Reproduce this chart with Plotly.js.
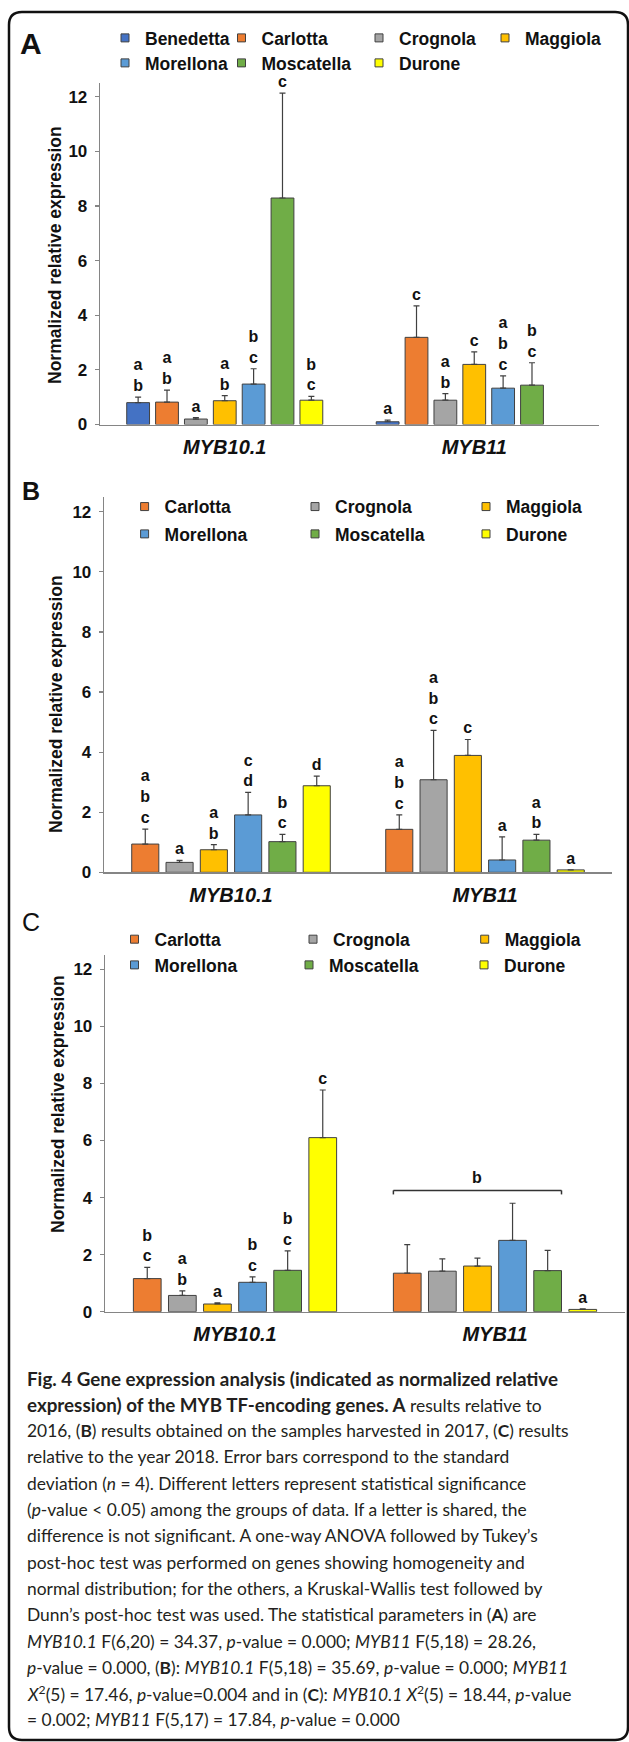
<!DOCTYPE html>
<html><head><meta charset="utf-8">
<script src="https://cdn.plot.ly/plotly-3.0.1.min.js"></script>
<style>html,body{margin:0;padding:0;background:#fff;} #chart{width:629px;height:1742px;}</style>
</head><body><div id="chart"></div>
<script>
// ---------------- DATA ----------------
const genes = ['MYB10.1', 'MYB11'];
const cultivarsA = ['Benedetta', 'Carlotta', 'Crognola', 'Maggiola', 'Morellona', 'Moscatella', 'Durone'];
const cultivarsBC = ['Carlotta', 'Crognola', 'Maggiola', 'Morellona', 'Moscatella', 'Durone'];
const cultivarColors = ['#4472C4', '#ED7D31', '#A5A5A5', '#FFC000', '#5B9BD5', '#70AD47', '#FFFF00'];

// (A) 2016
const meanA_MYB101 = [0.80, 0.82, 0.20, 0.87, 1.48, 8.29, 0.89];
const sdA_MYB101   = [0.20, 0.44, 0.05, 0.19, 0.56, 3.84, 0.14];
const meanA_MYB11  = [0.10, 3.19, 0.89, 2.20, 1.33, 1.44, null];
const sdA_MYB11    = [0.06, 1.15, 0.24, 0.46, 0.45, 0.82, null];
const lettersA_MYB101 = ['a<br>b', 'a<br>b', 'a', 'a<br>b', 'b<br>c', 'c', 'b<br>c'];
const lettersA_MYB11  = ['a', 'c', 'a<br>b', 'c', 'a<br>b<br>c', 'b<br>c', null];

// (B) 2017
const meanB_MYB101 = [0.94, 0.33, 0.75, 1.91, 1.02, 2.88];
const sdB_MYB101   = [0.50, 0.07, 0.17, 0.75, 0.24, 0.32];
const meanB_MYB11  = [1.43, 3.08, 3.89, 0.41, 1.07, 0.08];
const sdB_MYB11    = [0.48, 1.64, 0.53, 0.77, 0.19, 0.00];
const lettersB_MYB101 = ['a<br>b<br>c', 'a', 'a<br>b', 'c<br>d', 'b<br>c', 'd'];
const lettersB_MYB11  = ['a<br>b<br>c', 'a<br>b<br>c', 'c', 'a', 'a<br>b', 'a'];

// (C) 2018
const meanC_MYB101 = [1.16, 0.57, 0.27, 1.03, 1.45, 6.10];
const sdC_MYB101   = [0.39, 0.16, 0.04, 0.19, 0.68, 1.67];
const meanC_MYB11  = [1.35, 1.42, 1.60, 2.50, 1.44, 0.08];
const sdC_MYB11    = [1.00, 0.43, 0.28, 1.30, 0.71, 0.02];
const lettersC_MYB101 = ['b<br>c', 'a<br>b', 'a', 'b<br>c', 'b<br>c', 'c'];
const lettersC_MYB11  = [null, null, null, null, null, 'a'];
const bracketC_MYB11 = {label: 'b', first: 'Carlotta', last: 'Moscatella', y: 4.25};

const yTicks = [0, 2, 4, 6, 8, 10, 12];
const yTitle = 'Normalized relative expression';
const panelLabels = ['A', 'B', 'C'];

// ---------------- LAYOUT HELPERS ----------------
const W = 629, H = 1742;
const px = v => v / W;
const py = v => 1 - v / H;
const FONT = 'Liberation Sans, Arial, sans-serif';
const CAPFONT = 'Lato, Open Sans, sans-serif';
const BARGAP = 0.19, GROUPGAP = 0.21;

const colorOf = {};
cultivarsA.forEach((c, i) => colorOf[c] = cultivarColors[i]);

const traces = [];
const annotations = [];
const shapes = [];
const layout = {
  width: W, height: H, autosize: false,
  margin: {l: 0, r: 0, t: 0, b: 0},
  paper_bgcolor: '#fff', plot_bgcolor: 'rgba(0,0,0,0)',
  barmode: 'group', bargap: BARGAP, bargroupgap: GROUPGAP,
  showlegend: true,
  font: {family: FONT, color: '#111'}
};

let legendCount = 0;
function addLegendItem(name, color, axSuffix, markerX, rowY) {
  legendCount++;
  const lid = legendCount === 1 ? 'legend' : 'legend' + legendCount;
  traces.push({
    type: 'scatter', mode: 'markers', name: name,
    x: [genes[0]], y: [null],
    xaxis: 'x' + axSuffix, yaxis: 'y' + axSuffix,
    marker: {symbol: 'square', size: 8, color: color, line: {color: '#404040', width: 1}},
    legend: lid, showlegend: true, hoverinfo: 'skip'
  });
  layout[lid] = {
    x: px(markerX - 22), xanchor: 'left', y: py(rowY), yanchor: 'middle',
    orientation: 'h', bgcolor: 'rgba(0,0,0,0)', borderwidth: 0,
    font: {family: FONT, size: 17.5, weight: 'bold', color: '#111'},
    itemclick: false, itemdoubleclick: false
  };
}

function buildPanel(p) {
  const s = p.suffix;
  const axX = 'xaxis' + s;
  const axY = 'yaxis' + s;
  p.cultivars.forEach((c, i) => {
    const m = [p.m10[i], p.m11[i]];
    const sd = [p.s10[i], p.s11[i]];
    traces.push({
      type: 'bar', name: c, x: genes, y: m,
      xaxis: 'x' + s, yaxis: 'y' + s,
      offsetgroup: c,
      marker: {color: colorOf[c], line: {color: '#404040', width: 1}},
      error_y: {type: 'data', symmetric: false, array: sd, arrayminus: [0, 0],
                color: '#404040', thickness: 1.2, width: 3},
      showlegend: false, hoverinfo: 'skip'
    });
    // significance letters sit on top of mean + sd
    traces.push({
      type: 'bar', name: c + ' letters', x: genes,
      y: m.map((v, k) => v === null ? null : v + (sd[k] || 0)),
      xaxis: 'x' + s, yaxis: 'y' + s,
      offsetgroup: c,
      marker: {color: 'rgba(0,0,0,0)', line: {width: 0}},
      text: [p.l10[i], p.l11[i]], textposition: 'outside', textangle: 0,
      constraintext: 'none', cliponaxis: false,
      outsidetextfont: {family: FONT, size: 16, weight: 'bold', color: '#111'},
      showlegend: false, hoverinfo: 'skip'
    });
  });
  layout[axX] = {
    domain: [px(p.x0), px(p.x1)], anchor: 'y' + s,
    type: 'category', showline: true, linecolor: '#858585', linewidth: 1.3,
    ticks: '', showgrid: false, zeroline: false, fixedrange: true,
    ticklabelstandoff: 4,
    tickfont: {family: FONT, size: 20, weight: 'bold', style: 'italic', color: '#111'}
  };
  layout[axY] = {
    domain: [py(p.y0), py(p.y1)], anchor: 'x' + s,
    range: [0, 12.5], tickvals: yTicks, ticktext: yTicks.map(String),
    ticks: 'outside', ticklen: 4, tickcolor: '#858585', tickwidth: 1.2,
    showline: true, linecolor: '#858585', linewidth: 1.3,
    showgrid: false, zeroline: false, fixedrange: true,
    ticklabelstandoff: 4,
    tickfont: {family: FONT, size: 17, weight: 'bold', color: '#111'}
  };
  annotations.push({
    text: yTitle, textangle: -90, xref: 'paper', yref: 'paper',
    x: px(p.titleX), y: py(p.titleY), xanchor: 'center', yanchor: 'middle',
    showarrow: false, font: {family: FONT, size: 17.5, weight: 'bold', color: '#111'}
  });
  annotations.push({
    text: p.label, xref: 'paper', yref: 'paper',
    x: px(31), y: py(p.labelY), xanchor: 'center', yanchor: 'middle',
    showarrow: false, font: {family: FONT, size: p.labelSize, weight: p.labelWeight, color: '#111'}
  });
  p.cultivars.forEach((c, i) => {
    const pos = p.legendPos[i];
    addLegendItem(c, colorOf[c], s, pos[0], pos[1]);
  });
}

buildPanel({
  suffix: '', label: panelLabels[0], labelY: 44, labelSize: 30, labelWeight: 'bold',
  cultivars: cultivarsA,
  m10: meanA_MYB101, s10: sdA_MYB101, m11: meanA_MYB11, s11: sdA_MYB11,
  l10: lettersA_MYB101, l11: lettersA_MYB11,
  x0: 100, x1: 599, y0: 424.5, y1: 83, titleX: 55, titleY: 255,
  legendPos: [[127, 38], [243.5, 38], [381, 38], [507, 38], [127, 63], [243.5, 63], [381, 63]]
});
buildPanel({
  suffix: '2', label: panelLabels[1], labelY: 491, labelSize: 25, labelWeight: 'bold',
  cultivars: cultivarsBC,
  m10: meanB_MYB101, s10: sdB_MYB101, m11: meanB_MYB11, s11: sdB_MYB11,
  l10: lettersB_MYB101, l11: lettersB_MYB11,
  x0: 104, x1: 612, y0: 872.3, y1: 496.7, titleX: 56, titleY: 704,
  legendPos: [[146.6, 506.7], [317, 506.7], [488, 506.7], [146.6, 534], [317, 534], [488, 534]]
});
buildPanel({
  suffix: '3', label: panelLabels[2], labelY: 921.5, labelSize: 25, labelWeight: 'normal',
  cultivars: cultivarsBC,
  m10: meanC_MYB101, s10: sdC_MYB101, m11: meanC_MYB11, s11: sdC_MYB11,
  l10: lettersC_MYB101, l11: lettersC_MYB11,
  x0: 105, x1: 625, y0: 1311.7, y1: 955, titleX: 58, titleY: 1104,
  legendPos: [[136.5, 939.3], [315, 939.3], [486.7, 939.3], [136.5, 965], [311, 965], [486, 965]]
});

// bracket over MYB11 in panel C (derived from bar grouping geometry)
(function () {
  const n = cultivarsBC.length;
  const slot = (1 - BARGAP) / n;
  const gi = genes.indexOf('MYB11');
  const iFirst = cultivarsBC.indexOf(bracketC_MYB11.first);
  const iLast = cultivarsBC.indexOf(bracketC_MYB11.last);
  const start = gi - (1 - BARGAP) / 2;
  const xl = start + iFirst * slot + slot * GROUPGAP / 2;
  const xr = start + (iLast + 1) * slot - slot * GROUPGAP / 2;
  const y = bracketC_MYB11.y, yt = y - 0.14;
  const ln = {color: '#333', width: 1.5};
  shapes.push({type: 'line', xref: 'x3', yref: 'y3', x0: xl, x1: xr, y0: y, y1: y, line: ln});
  shapes.push({type: 'line', xref: 'x3', yref: 'y3', x0: xl, x1: xl, y0: y, y1: yt, line: ln});
  shapes.push({type: 'line', xref: 'x3', yref: 'y3', x0: xr, x1: xr, y0: y, y1: yt, line: ln});
  annotations.push({
    text: bracketC_MYB11.label, xref: 'x3', yref: 'y3', x: (xl + xr) / 2, y: y,
    xanchor: 'center', yanchor: 'bottom', yshift: 2, showarrow: false,
    font: {family: FONT, size: 16, weight: 'bold', color: '#111'}
  });
})();

// rounded figure frame
(function () {
  const l = px(9), r = px(628), t = py(12), b = py(1740);
  const rx = px(13), ry = 13 / H;
  const path = `M${l},${t - ry} Q${l},${t} ${l + rx},${t} L${r - rx},${t} Q${r},${t} ${r},${t - ry} ` +
               `L${r},${b + ry} Q${r},${b} ${r - rx},${b} L${l + rx},${b} Q${l},${b} ${l},${b + ry} Z`;
  shapes.push({type: 'path', xref: 'paper', yref: 'paper', path: path,
               line: {color: '#111', width: 2.5}, fillcolor: 'rgba(0,0,0,0)', layer: 'above'});
})();

// caption
const B1 = '<span style="font-weight:bold;font-size:18.8px">';
const B0 = '</span>';
const captionLines = [
  B1 + 'Fig. 4 Gene expression analysis (indicated as normalized relative' + B0,
  B1 + 'expression) of the MYB TF-encoding genes. A' + B0 + ' results relative to',
  '2016, (<b>B</b>) results obtained on the samples harvested in 2017, (<b>C</b>) results',
  'relative to the year 2018. Error bars correspond to the standard',
  'deviation (<i>n</i> = 4). Different letters represent statistical significance',
  '(<i>p</i>-value &lt; 0.05) among the groups of data. If a letter is shared, the',
  'difference is not significant. A one-way ANOVA followed by Tukey\u2019s',
  'post-hoc test was performed on genes showing homogeneity and',
  'normal distribution; for the others, a Kruskal-Wallis test followed by',
  'Dunn\u2019s post-hoc test was used. The statistical parameters in (<b>A</b>) are',
  '<i>MYB10.1</i> F(6,20) = 34.37, <i>p</i>-value = 0.000; <i>MYB11</i> F(5,18) = 28.26,',
  '<i>p</i>-value = 0.000, (<b>B</b>): <i>MYB10.1</i> F(5,18) = 35.69, <i>p</i>-value = 0.000; <i>MYB11</i>',
  '<i>X</i><sup>2</sup>(5) = 17.46, <i>p</i>-value=0.004 and in (<b>C</b>): <i>MYB10.1 X</i><sup>2</sup>(5) = 18.44, <i>p</i>-value',
  '= 0.002; <i>MYB11</i> F(5,17) = 17.84, <i>p</i>-value = 0.000'
];
captionLines.forEach((t, i) => {
  annotations.push({
    text: t, xref: 'paper', yref: 'paper', x: px(25), y: py(1378 + 26.3 * i),
    xanchor: 'left', yanchor: 'middle', showarrow: false, align: 'left',
    font: {family: CAPFONT, size: 17.4, color: '#231F20'}
  });
});

layout.annotations = annotations;
layout.shapes = shapes;

Plotly.newPlot('chart', traces, layout, {staticPlot: true, displayModeBar: false});
</script>
</body></html>
